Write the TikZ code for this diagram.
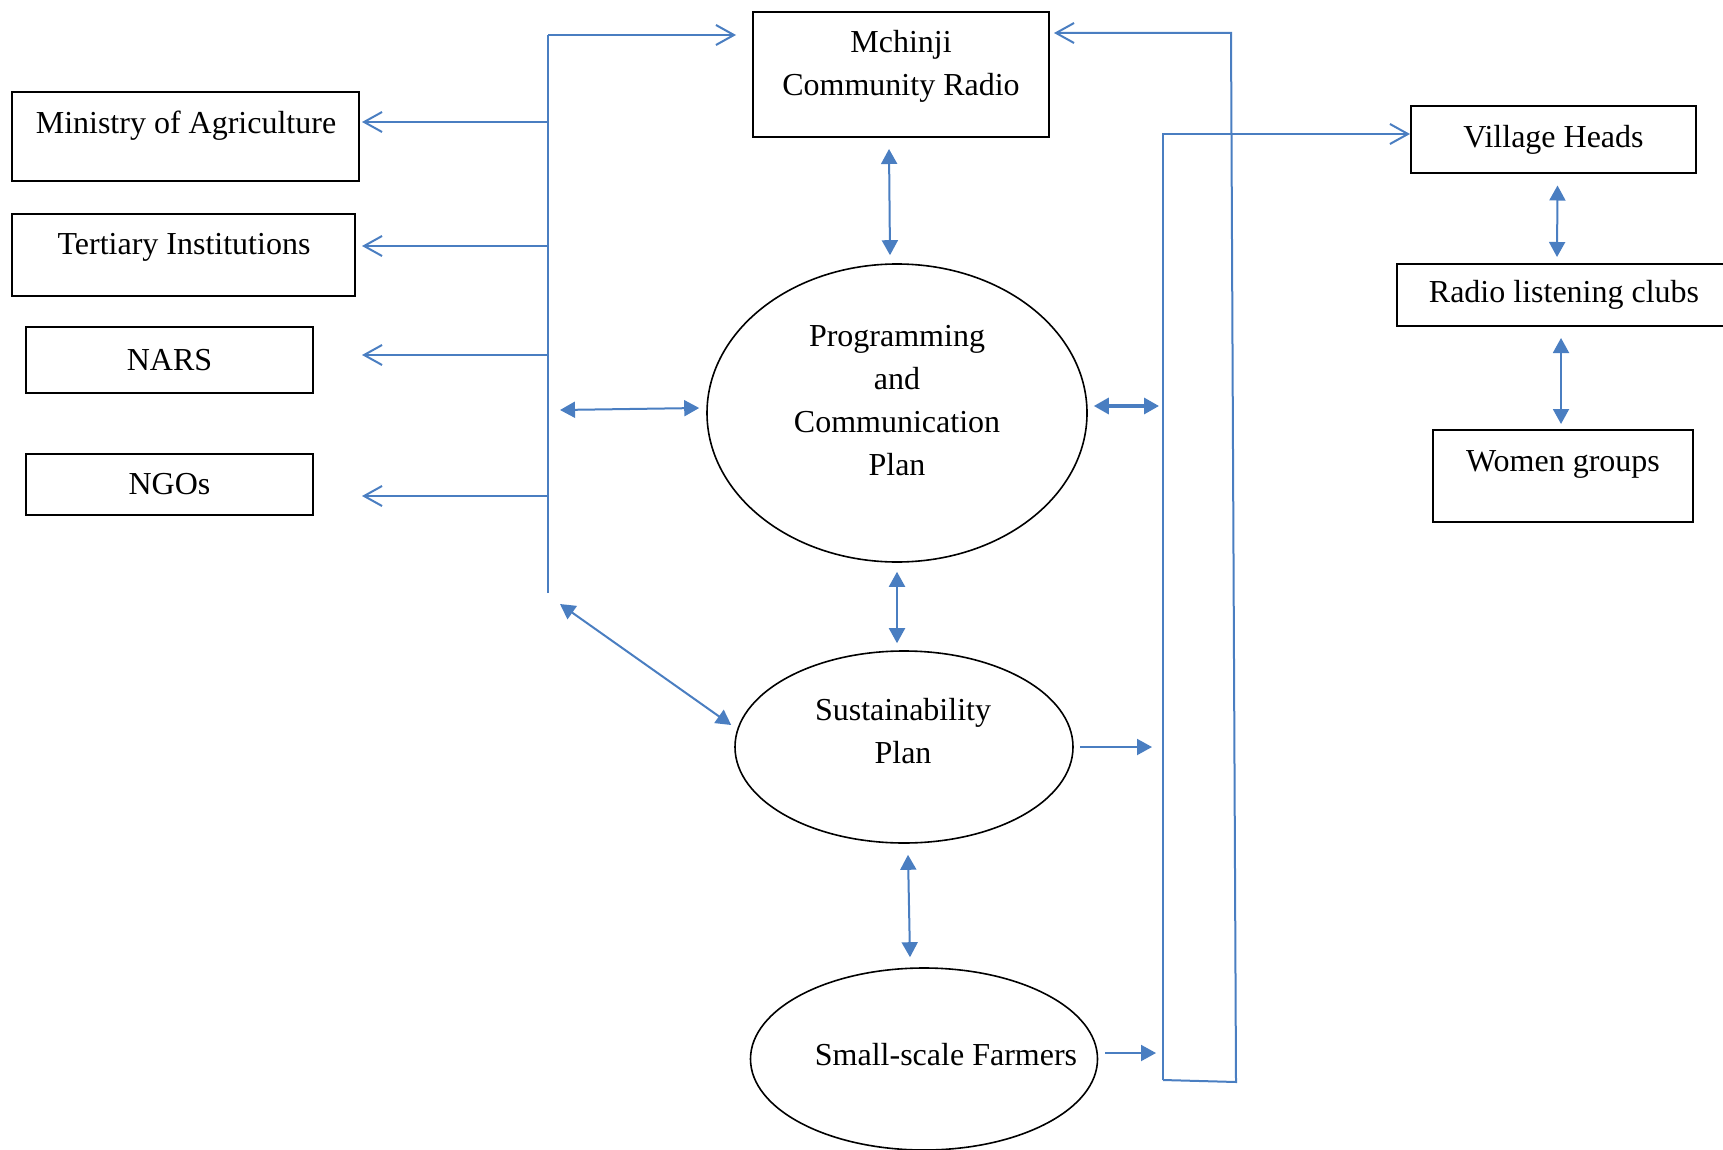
\documentclass[tikz,border=0pt]{standalone}
\usepackage{fontspec}
\setmainfont{Liberation Serif}
\usetikzlibrary{arrows.meta,shapes.geometric}
\definecolor{lnblue}{RGB}{74,126,193}
\begin{document}
\begin{tikzpicture}[x=0.5pt,y=-0.5pt,
  box/.style={draw=black,line width=1pt,inner sep=0pt},
  ell/.style={draw=black,line width=0.8pt,ellipse,inner sep=0pt},
  txt/.style={font=\fontsize{16}{21.5}\selectfont,align=center,inner sep=0pt},
  bl/.style={draw=lnblue,line width=1pt},
  oarr/.style={bl,-{Straight Barb[length=9pt,width=10pt]}},
  barr/.style={bl,{Triangle[length=7.5pt,width=8pt]}-{Triangle[length=7.5pt,width=8pt]}},
  farr/.style={bl,-{Triangle[length=7.5pt,width=8pt]}},
]
\useasboundingbox (0,0) rectangle (1723,1150);

% left boxes
\node[box,minimum width=173.5pt,minimum height=44.5pt] (moa) at (185.5,136.5) {};
\node[txt] (moat) at (186,125.5) {Ministry of Agriculture};
\node[box,minimum width=171.5pt,minimum height=41pt] (ter) at (183.5,255) {};
\node[txt] (tert) at (184,247.5) {Tertiary Institutions};
\node[box,txt,minimum width=143.5pt,minimum height=33pt] (nars) at (169.5,360) {NARS};
\node[box,txt,minimum width=143.5pt,minimum height=30.5pt] (ngo) at (169.5,484.5) {NGOs};

% centre
\node[box,minimum width=148pt,minimum height=62.5pt] (mch) at (901,74.5) {};
\node[txt] (mcht) at (901,66) {Mchinji\\Community Radio};
\node[ell,minimum width=190pt,minimum height=149pt] (prog) at (897,413) {};
\node[txt] (progt) at (897,401) {Programming\\and\\Communication\\Plan};
\node[ell,minimum width=169pt,minimum height=96pt] (sust) at (904,747) {};
\node[txt] (sustt) at (903,731.5) {Sustainability\\Plan};
\node[ell,minimum width=173.5pt,minimum height=91pt] (farm) at (924,1059) {};
\node[txt] (farmt) at (946,1055) {Small-scale Farmers};

% right boxes
\node[box,txt,minimum width=142.5pt,minimum height=33.5pt] (vh) at (1553.5,140) {Village Heads};
\node[box,txt,minimum width=167pt,minimum height=31pt] (rlc) at (1564,295) {Radio listening clubs};
\node[box,minimum width=130pt,minimum height=46pt] (wg) at (1563,476) {};
\node[txt] (wgt) at (1563,464.5) {Women groups};

% left bus
\coordinate (lt) at (548,35);
\coordinate (lb) at (548,593);
\coordinate (tipL) at (362,0);
\coordinate (b1) at (548,122);
\coordinate (b2) at (548,246);
\coordinate (b3) at (548,355);
\coordinate (b4) at (548,496);
\draw[bl] (lb) -- (lt);
\draw[oarr] (lt) -- ([xshift=-8pt]mch.west |- lt);
\draw[oarr] (b1) -- (b1 -| tipL);
\draw[oarr] (b2) -- (b2 -| tipL);
\draw[oarr] (b3) -- (b3 -| tipL);
\draw[oarr] (b4) -- (b4 -| tipL);
\coordinate (lm) at (560,410);
\coordinate (ld) at (560,604);
\draw[barr] (lm) -- ([xshift=-3.5pt,yshift=2.5pt]prog.west);
\draw[barr] (ld) -- ([xshift=-1.5pt,yshift=11pt]sust.west);

% centre column
\draw[barr] ([xshift=-6pt,yshift=-5.5pt]mch.south) -- ([xshift=-3.5pt,yshift=4pt]prog.north);
\draw[barr] ([yshift=-4.5pt]prog.south) -- ([xshift=-3.5pt,yshift=3.5pt]sust.north);
\draw[barr] ([xshift=2pt,yshift=-5.5pt]sust.south) -- ([xshift=-7pt,yshift=5pt]farm.north);

% right loop
\coordinate (it) at (1163,134);
\coordinate (ib) at (1163,1080);
\coordinate (ob) at (1236,1082);
\coordinate (ot) at (1231,33);
\draw[oarr] (ib) -- (it) -- (vh.west |- it);
\draw[oarr] (ib) -- (ob) -- (ot) -- ([xshift=2pt]mch.east |- ot);
\draw[barr,line width=1.6pt] ([xshift=3pt,yshift=3.5pt]prog.east) -- ([xshift=-2pt,yshift=3.5pt]prog.east -| it);
\draw[farr] ([xshift=3pt]sust.east) -- ([xshift=-5.5pt]sust.east -| it);
\draw[farr] ([xshift=3.5pt,yshift=3pt]farm.east) -- ([xshift=-3.5pt,yshift=3pt]farm.east -| it);

% right column
\draw[barr] ([xshift=2pt,yshift=-5.5pt]vh.south) -- ([xshift=-3.5pt,yshift=3pt]rlc.north);
\draw[barr] ([xshift=-1.5pt,yshift=-5.5pt]rlc.south) -- ([xshift=-1pt,yshift=2.5pt]wg.north);
\end{tikzpicture}
\end{document}
